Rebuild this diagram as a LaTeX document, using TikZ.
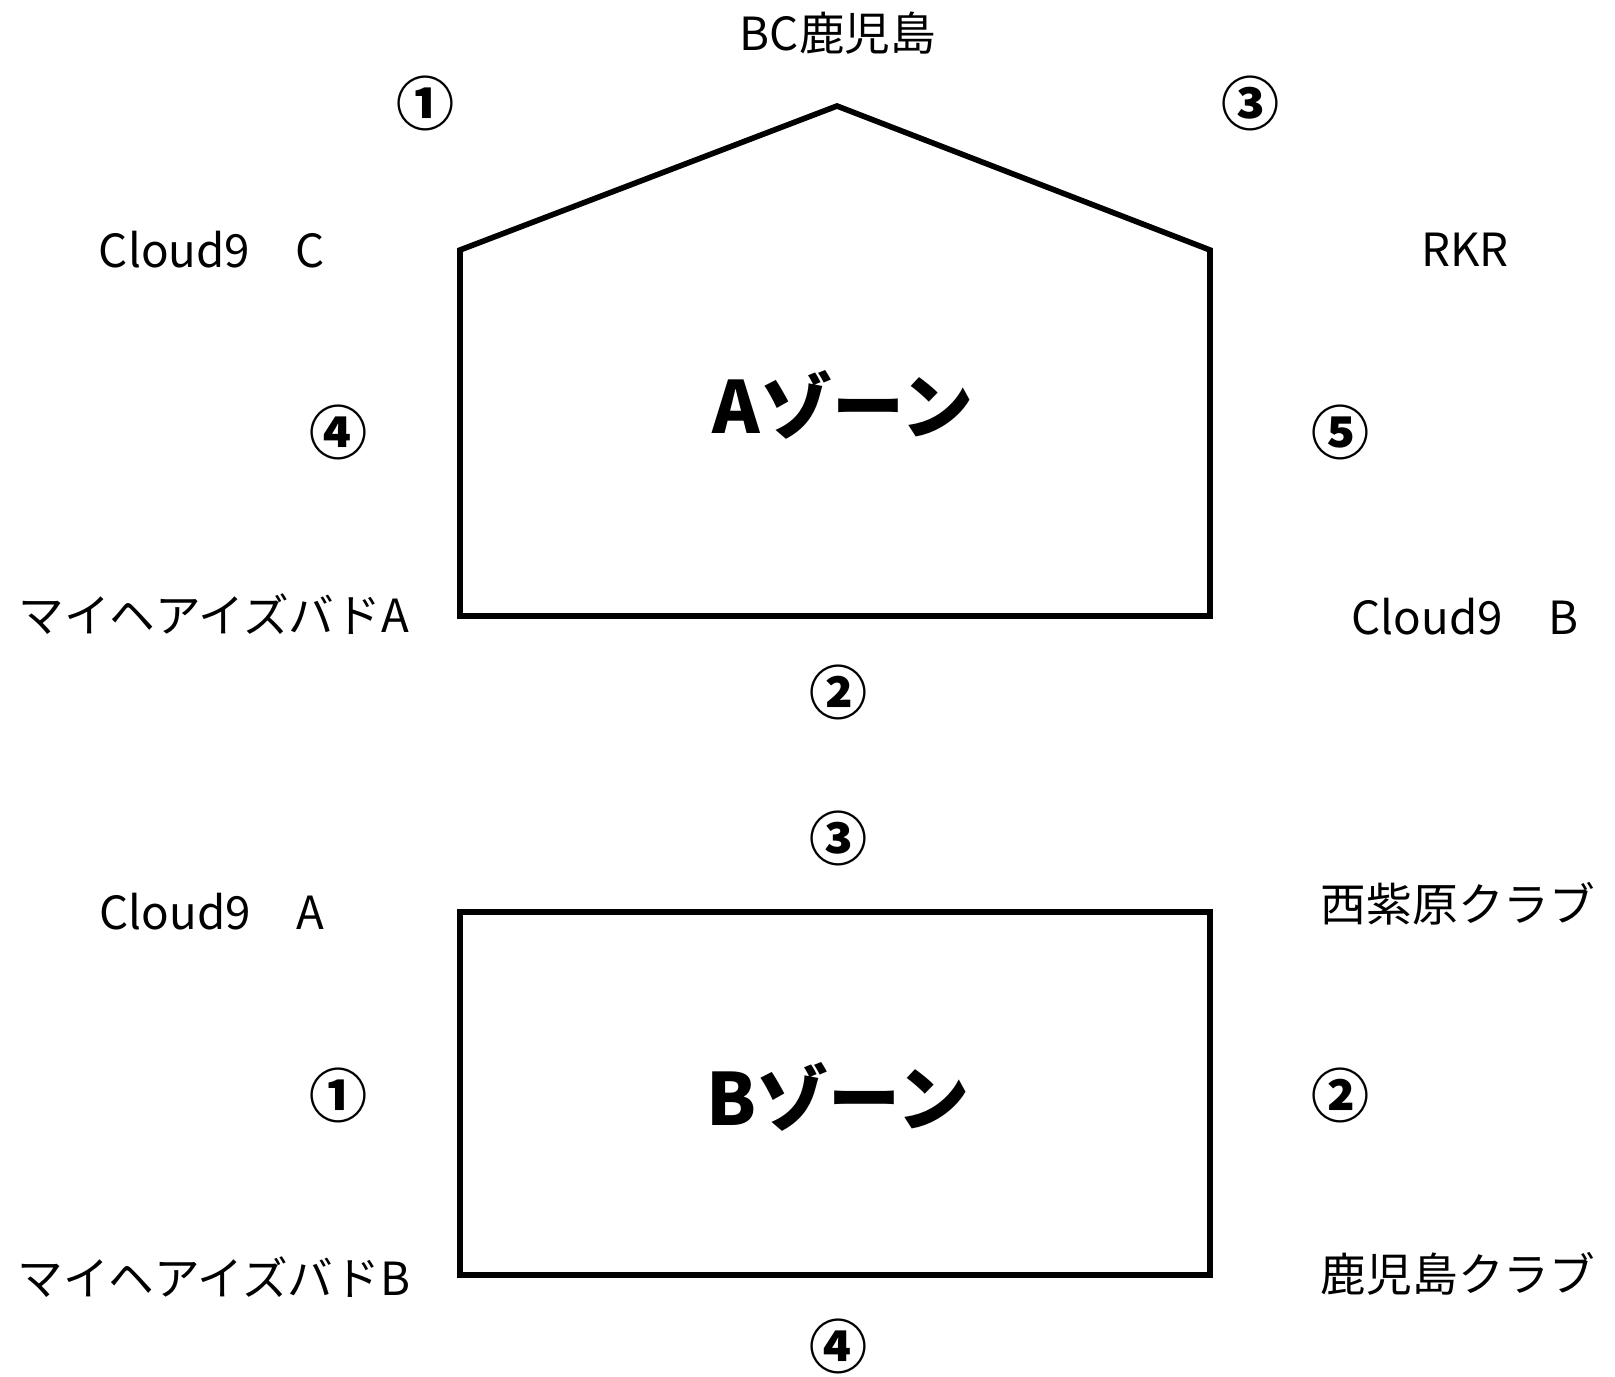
\documentclass[tikz,border=0pt]{standalone}
\usepackage{fontspec}
\setmainfont{Noto Sans CJK JP}
\usetikzlibrary{positioning}
\tikzset{
  team/.style = {font=\fontsize{26}{30}\selectfont, inner sep=0pt},
  num/.style = {font=\fontsize{33}{36}\selectfont\bfseries, inner sep=0pt},
  zone/.style = {font=\fontsize{41}{46}\selectfont\bfseries, inner sep=0pt},
  field/.style = {line width=3.2pt, line join=miter}
}

\begin{document}
\begin{tikzpicture}[x=0.02cm, y=-0.02cm]
  \useasboundingbox (0,0) rectangle (1615,1376);

  % Aゾーン
  \coordinate (ahome) at (837,106);
  \coordinate (aleft) at (460,250);
  \coordinate (aright) at (1210,250);
  \coordinate (abl) at (460,616);
  \coordinate (abr) at (1210,616);
  \draw[field] (ahome) -- (aright) -- (abr) -- (abl) -- (aleft) -- cycle;
  \node[zone] (azone) at (843,405) {Aゾーン};

  \node[team] (bckago) at (838,33) {BC鹿児島};
  \node[num] (a1) at (425,103) {①};
  \node[num] (a3) at (1250,103) {③};
  \node[team] (cloudc) at (212,250) {Cloud9　C};
  \node[team] (rkr) at (1465,250) {RKR};
  \node[num] (a4) at (338,432) {④};
  \node[num] (a5) at (1340,432) {⑤};
  \node[team] (mybuda) at (214,614) {マイヘアイズバドA};
  \node[team] (cloudb) at (1465,617) {Cloud9　B};
  \node[num] (a2) at (838,692) {②};

  % Bゾーン
  \coordinate (btl) at (460,912);
  \coordinate (bbr) at (1210,1275);
  \draw[field] (btl) rectangle (bbr);
  \node[zone] (bzone) at (838,1097) {Bゾーン};

  \node[num] (b3) at (838,838) {③};
  \node[team] (clouda) at (212,912) {Cloud9　A};
  \node[team] (nishi) at (1458,904) {西紫原クラブ};
  \node[num] (b1) at (338,1095) {①};
  \node[num] (b2) at (1340,1095) {②};
  \node[team] (mybudb) at (214,1277) {マイヘアイズバドB};
  \node[team] (kagoclub) at (1458,1274) {鹿児島クラブ};
  \node[num] (b4) at (838,1346) {④};
\end{tikzpicture}
\end{document}
